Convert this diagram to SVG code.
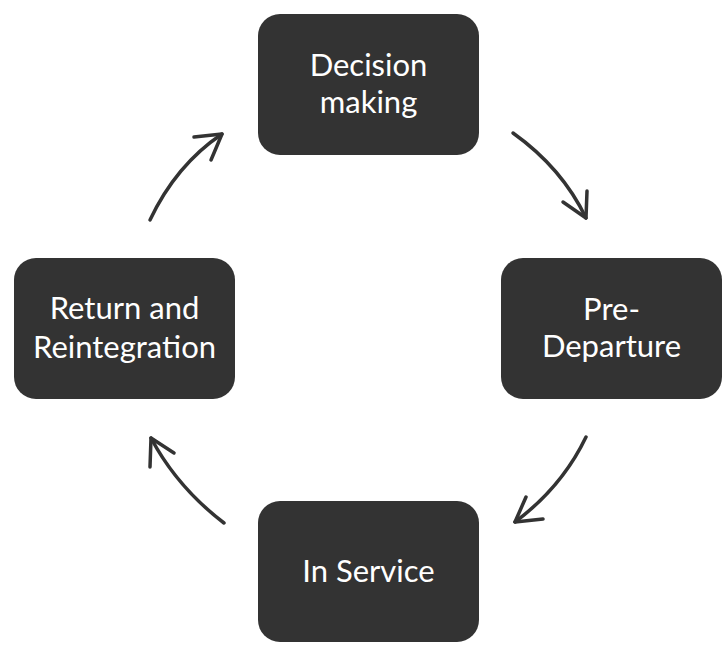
<svg xmlns="http://www.w3.org/2000/svg" width="725" height="653" viewBox="0 0 725 653">
<style>
.box{fill:#333333;}
.lbl{fill:#ffffff;font-family:Lato,"Open Sans","Liberation Sans",sans-serif;font-size:31px;text-anchor:middle;}
.arr{fill:none;stroke:#333333;stroke-width:3.5;stroke-linecap:round;stroke-linejoin:round;}
</style>
<rect width="725" height="653" fill="#ffffff"/>
<g id="decision">
<rect class="box" x="258" y="14" width="221" height="141" rx="22"/>
<text class="lbl" x="368.5" y="76">Decision</text>
<text class="lbl" x="368.5" y="113">making</text>
</g>
<g id="predeparture">
<rect class="box" x="501" y="258" width="221" height="141" rx="22"/>
<text class="lbl" x="611.5" y="320">Pre-</text>
<text class="lbl" x="611.5" y="357">Departure</text>
</g>
<g id="inservice">
<rect class="box" x="258" y="501" width="221" height="141" rx="22"/>
<text class="lbl" x="368.5" y="582">In Service</text>
</g>
<g id="return">
<rect class="box" x="14" y="258" width="221" height="141" rx="22"/>
<text class="lbl" x="124.5" y="319">Return and</text>
<text class="lbl" x="124.5" y="358">Reintegration</text>
</g>
<g id="connectors">
<path class="arr" d="M513,133 Q562,168 586,218"/>
<path class="arr" d="M563,202 L586,218 L587,191"/>
<path class="arr" d="M586,437 Q562,487 515,522"/>
<path class="arr" d="M526,497 L515,522 L543,519"/>
<path class="arr" d="M224,523 Q177,487 151,438"/>
<path class="arr" d="M150,467 L151,438 L174,453"/>
<path class="arr" d="M150,220 Q176,165 222,134"/>
<path class="arr" d="M194,137 L222,134 L211,160"/>
</g>
</svg>
